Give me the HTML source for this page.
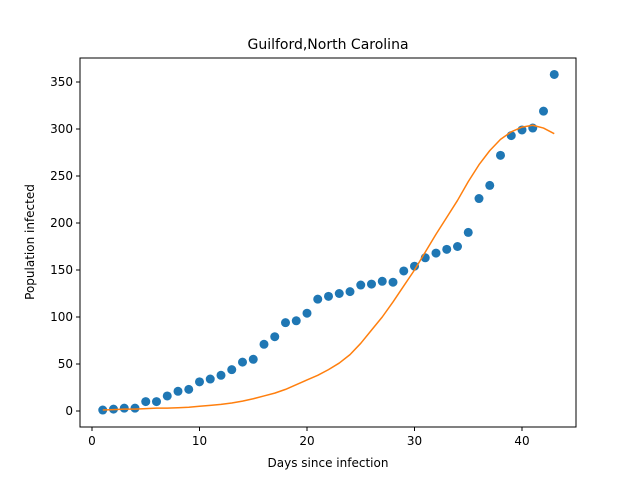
<!DOCTYPE html>
<html><head><meta charset="utf-8"><style>body{margin:0;background:#fff}svg{font-family:"DejaVu Sans","Liberation Sans",sans-serif}</style></head>
<body>
<svg id="c" width="640" height="480"></svg>
<script>
const days=[1,2,3,4,5,6,7,8,9,10,11,12,13,14,15,16,17,18,19,20,21,22,23,24,25,26,27,28,29,30,31,32,33,34,35,36,37,38,39,40,41,42,43];
const observed=[1,2,3,3,10,10,16,21,23,31,34,38,44,52,55,71,79,94,96,104,119,122,125,127,134,135,138,137,149,154,163,168,172,175,190,226,240,272,293,299,301,319,358];
const fitted=[1,1.5,2,2,2.5,3,3,3.5,4,5,6,7,8.5,10.5,13,16,19,23,28,33,38,44,51,60,72,86,100,116,133,150,169,188,206,224,244,262,277,289,297,302,304,301,295];
const xTicks=[0,10,20,30,40];
const yTicks=[0,50,100,150,200,250,300,350];
const NS="http://www.w3.org/2000/svg",svg=document.getElementById('c');
const L=80,R=576,T=58,B=427;
const X=v=>92+v*10.75, Y=v=>411-v*0.94;
function mk(t,a,txt){const e=document.createElementNS(NS,t);for(const k in a)e.setAttribute(k,a[k]);if(txt!=null)e.textContent=txt;svg.appendChild(e);return e;}
let e=mk('text',{x:328,y:49,'text-anchor':'middle','font-size':14},'Guilford,North Carolina');


xTicks.forEach(t=>{mk('line',{x1:X(t),x2:X(t),y1:B,y2:B+4,stroke:'#000'});
 e=mk('text',{x:X(t),y:B+18,'text-anchor':'middle','font-size':12},t);
 
 });
yTicks.forEach(t=>{mk('line',{x1:L-4,x2:L,y1:Y(t),y2:Y(t),stroke:'#000'});
 e=mk('text',{x:L-7,y:Y(t)+4,'text-anchor':'end','font-size':12},t);
 
 });
e=mk('text',{x:328,y:467,'text-anchor':'middle','font-size':12},'Days since infection');


e=mk('text',{x:34,y:242,'text-anchor':'middle','font-size':12,transform:'rotate(-90 34 242)'},'Population infected');


days.forEach((d,i)=>{e=mk('circle',{cx:X(d),cy:Y(observed[i]),r:4.5,fill:'#1f77b4'});
 
 });
e=mk('polyline',{points:days.map((d,i)=>X(d)+','+Y(fitted[i])).join(' '),fill:'none',stroke:'#ff7f0e','stroke-width':1.5,'stroke-linejoin':'round'});


e=mk('rect',{x:L,y:T,width:R-L,height:B-T,fill:'none',stroke:'#000','stroke-width':1});


</script>
</body></html>
